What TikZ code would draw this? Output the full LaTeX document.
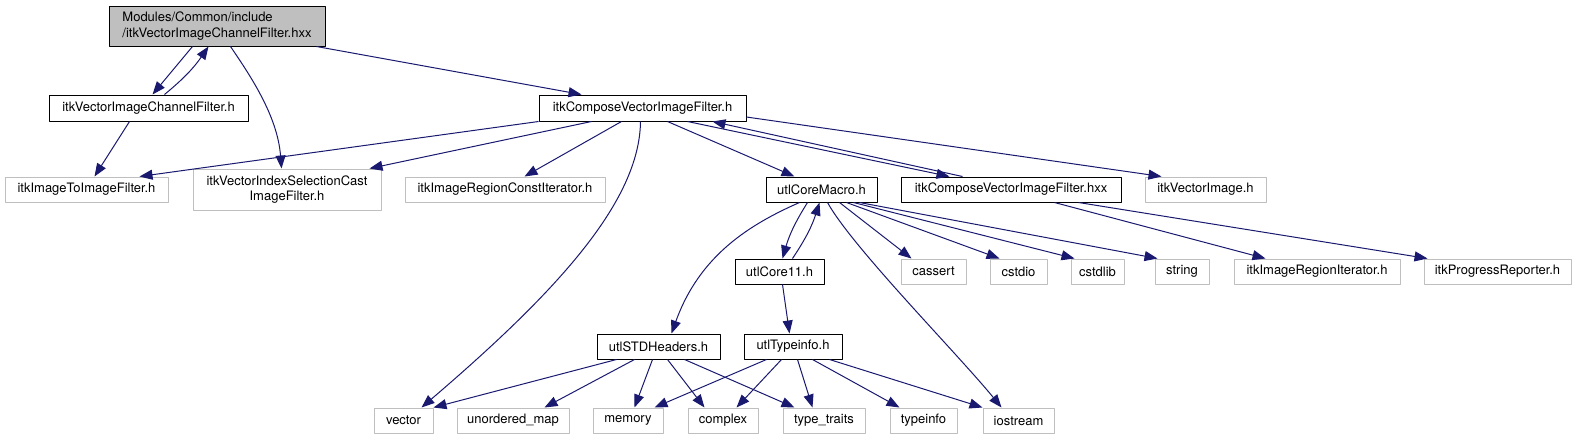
\documentclass[tikz,border=0pt]{standalone}
\usepackage{fontspec}
\setmainfont{TeX Gyre Heros}
\usepackage{tikz}
\usetikzlibrary{arrows.meta}
\usepackage{xcolor}
\definecolor{edgeblue}{RGB}{25,25,112}
\definecolor{boxgray}{RGB}{191,191,191}

\begin{document}
\begin{tikzpicture}[x=1pt, y=-1pt, line join=round,
    font=\fontsize{13}{15.5}\selectfont,
    file/.style={draw=black, line width=1pt, inner sep=0pt, minimum height=25pt},
    ext/.style={draw=boxgray, line width=1pt, inner sep=0pt, minimum height=25pt},
    dep/.style={edgeblue, line width=1pt, -{Triangle[length=13pt, width=10pt]}}]

    % page: 1579 x 440 px, y grows downwards
    \useasboundingbox (0,0) rectangle (1579,440);

    % Root file (grey fill)
    \node[file, fill=boxgray, minimum width=216, minimum height=40, align=left] (root) at (217,26)
        {Modules/Common/include\\/itkVectorImageChannelFilter.hxx};

    % Row 1
    \node[file, minimum width=199, minimum height=26] (chanh)   at (148.5,108) {itkVectorImageChannelFilter.h};
    \node[file, minimum width=207, minimum height=26] (compose) at (642.5,108) {itkComposeVectorImageFilter.h};

    % Row 2
    \node[ext,  minimum width=163] (imgtoimg)  at (86.5,189.5)  {itkImageToImageFilter.h};
    \node[ext,  minimum width=188, minimum height=41, align=center] (selcast) at (287,189.5)
        {itkVectorIndexSelectionCast\\ImageFilter.h};
    \node[ext,  minimum width=200] (regconst)  at (505,189.5)   {itkImageRegionConstIterator.h};
    \node[file, minimum width=111] (coremacro) at (821.5,189.5) {utlCoreMacro.h};
    \node[file, minimum width=220] (hxx)       at (1011,189.5)  {itkComposeVectorImageFilter.hxx};
    \node[ext,  minimum width=121] (vecimg)    at (1205.5,189.5) {itkVectorImage.h};

    % Row 3
    \node[file, minimum width=89]  (core11)   at (779.5,271.5)  {utlCore11.h};
    \node[ext,  minimum width=65]  (cassert)  at (933.5,271.5)  {cassert};
    \node[ext,  minimum width=57]  (cstdio)   at (1018.5,271.5) {cstdio};
    \node[ext,  minimum width=53]  (cstdlib)  at (1097.5,271.5) {cstdlib};
    \node[ext,  minimum width=54]  (string)   at (1182,271.5)   {string};
    \node[ext,  minimum width=166] (regiter)  at (1317,271.5)   {itkImageRegionIterator.h};
    \node[ext,  minimum width=147] (progress) at (1497.5,271.5) {itkProgressReporter.h};

    % Row 4
    \node[file, minimum width=123] (stdheaders) at (658.5,346.5) {utlSTDHeaders.h};
    \node[file, minimum width=98]  (typeinfoh)  at (793,346.5)   {utlTypeinfo.h};

    % Row 5: system headers
    \node[ext, minimum width=59]  (vector)     at (403.5,420.5)  {vector};
    \node[ext, minimum width=112] (unordered)  at (513,420.5)    {unordered\_map};
    \node[ext, minimum width=70]  (memory)     at (628,420.5)    {memory};
    \node[ext, minimum width=70]  (complex)    at (723,420.5)    {complex};
    \node[ext, minimum width=82]  (typetraits) at (824,420.5)    {type\_traits};
    \node[ext, minimum width=67]  (typeinfo)   at (923.5,420.5)  {typeinfo};
    \node[ext, minimum width=71]  (iostream)   at (1018.5,420.5) {iostream};

    % From the root
    \draw[dep] ([xshift=84pt]root.south west) -- ([xshift=104pt]chanh.north west);
    \draw[dep] ([xshift=116pt]chanh.north west) to[bend right=8] ([xshift=100pt]root.south west);
    \draw[dep] ([xshift=122pt]root.south west) .. controls +(19,28) and +(-4,-53) .. ([xshift=89pt]selcast.north west);
    \draw[dep] ([xshift=208pt]root.south west) -- ([xshift=43pt]compose.north west);
    \draw[dep] ([xshift=81pt]chanh.south west) -- ([xshift=90pt]imgtoimg.north west);

    % From itkComposeVectorImageFilter.h
    \draw[dep] (compose.south west) -- ([xshift=135pt]imgtoimg.north west);
    \draw[dep] ([xshift=53pt]compose.south west) -- ([xshift=177pt]selcast.north west);
    \draw[dep] ([xshift=83pt]compose.south west) -- ([xshift=120pt]regconst.north west);
    \draw[dep] ([xshift=102pt]compose.south west) .. controls +(-1,79) and +(138,-118) .. ([xshift=48pt]vector.north west);
    \draw[dep] ([xshift=129pt]compose.south west) -- ([xshift=29pt]coremacro.north west);
    \draw[dep] ([xshift=149pt]compose.south west) -- ([xshift=49pt]hxx.north west);
    \draw[dep] ([xshift=62pt]hxx.north west) -- ([xshift=174pt]compose.south west);
    \draw[dep] ([yshift=-9pt]compose.east) -- ([xshift=17pt]vecimg.north west);

    % From the .hxx
    \draw[dep] ([xshift=154pt]hxx.south west) -- ([xshift=32pt]regiter.north west);
    \draw[dep] ([xshift=178pt]hxx.south west) -- ([xshift=4pt]progress.north west);

    % From utlCoreMacro.h
    \draw[dep] ([xshift=42pt]coremacro.south west) to[bend right=8] ([xshift=48pt]core11.north west);
    \draw[dep] ([xshift=58pt]core11.north west) to[bend right=8] ([xshift=54pt]coremacro.south west);
    \draw[dep] ([xshift=34pt]coremacro.south west) .. controls +(-50,22) and +(28,-78) .. ([xshift=75pt]stdheaders.north west);
    \draw[dep] ([xshift=62pt]coremacro.south west) .. controls +(25,45) and +(-45,-55) .. ([xshift=19pt]iostream.north west);
    \draw[dep] ([xshift=74pt]coremacro.south west) -- ([xshift=11pt]cassert.north west);
    \draw[dep] ([xshift=81pt]coremacro.south west) -- ([xshift=10pt]cstdio.north west);
    \draw[dep] ([xshift=88pt]coremacro.south west) -- ([xshift=4pt]cstdlib.north west);
    \draw[dep] ([xshift=94pt]coremacro.south west) -- ([xshift=3pt]string.north west);
    \draw[dep] ([xshift=48pt]core11.south west) -- ([xshift=46pt]typeinfoh.north west);

    % From utlSTDHeaders.h
    \draw[dep] ([xshift=20pt]stdheaders.south west) -- (vector.north east);
    \draw[dep] ([xshift=38pt]stdheaders.south west) -- ([xshift=88pt]unordered.north west);
    \draw[dep] ([xshift=56pt]stdheaders.south west) -- ([xshift=42pt]memory.north west);
    \draw[dep] ([xshift=71pt]stdheaders.south west) -- ([xshift=17pt]complex.north west);
    \draw[dep] ([xshift=88pt]stdheaders.south west) -- ([xshift=12pt]typetraits.north west);

    % From utlTypeinfo.h
    \draw[dep] ([xshift=23pt]typeinfoh.south west) -- ([xshift=62pt]memory.north west);
    \draw[dep] ([xshift=38pt]typeinfoh.south west) -- ([xshift=49pt]complex.north west);
    \draw[dep] ([xshift=54pt]typeinfoh.south west) -- ([xshift=30pt]typetraits.north west);
    \draw[dep] ([xshift=69pt]typeinfoh.south west) -- ([xshift=10pt]typeinfo.north west);
    \draw[dep] ([xshift=86pt]typeinfoh.south west) -- (iostream.north west);

\end{tikzpicture}
\end{document}
